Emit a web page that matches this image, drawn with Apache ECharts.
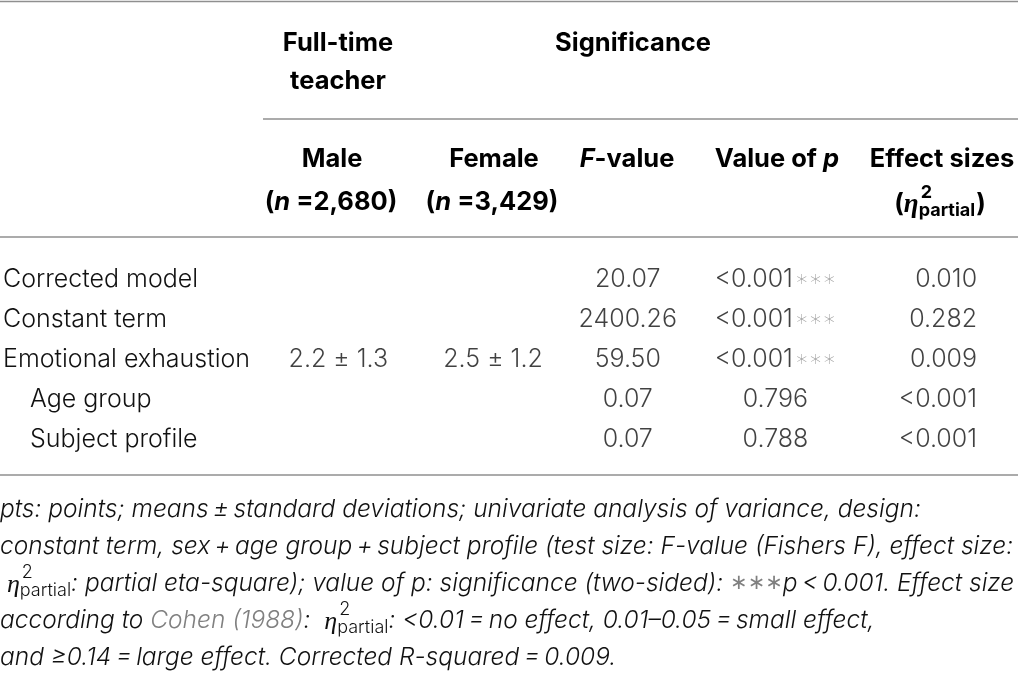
<!DOCTYPE html>
<html lang="en">
<head>
    <meta charset="UTF-8">
    <title>Univariate analysis of variance</title>
    <style>
        html, body {margin: 0; padding: 0; background: #fff;}
        #main {width: 1018px; height: 676px;}
    </style>
    <script type="text/javascript" src="https://cdn.jsdelivr.net/npm/echarts@6/dist/echarts.min.js"></script>
</head>
<body>
    <div id="main"></div>
    <script>
        // table data
        var rowLabels = ['Corrected model', 'Constant term', 'Emotional exhaustion', 'Age group', 'Subject profile'];
        var rowIndent = [0, 0, 0, 1, 1];
        var maleValues = ['', '', '2.2 \u00b1 1.3', '', ''];
        var femaleValues = ['', '', '2.5 \u00b1 1.2', '', ''];
        var fValues = [20.07, 2400.26, 59.50, 0.07, 0.07];
        var pValues = ['<0.001', '<0.001', '<0.001', '0.796', '0.788'];
        var pStars = ['***', '***', '***', '', ''];
        var effectValues = ['0.010', '0.282', '0.009', '<0.001', '<0.001'];

        var SANS = 'Inter';
        var BODY = {fontFamily: SANS, fontWeight: 300, fontSize: 25, fill: '#111'};
        var HEAD = {fontFamily: SANS, fontWeight: 'bold', fontSize: 25.5, fill: '#000'};
        var NOTE = {fontFamily: SANS, fontWeight: 300, fontStyle: 'italic', fontSize: 24.5, fill: '#111'};
        var GREY = '#808080';
        var STAR = '\u2217\u2217\u2217';

        var ctx = document.createElement('canvas').getContext('2d');
        function measure(t, st) {
            ctx.font = (st.fontStyle || 'normal') + ' ' + (st.fontWeight || 'normal') + ' ' + st.fontSize + 'px ' + st.fontFamily;
            return ctx.measureText(t).width;
        }
        function txt(x, y, t, st, align) {
            return {
                type: 'text', x: x, y: y, silent: true,
                style: {
                    text: t, fontFamily: st.fontFamily, fontWeight: st.fontWeight, fontStyle: st.fontStyle || 'normal',
                    fontSize: st.fontSize, fill: st.fill, rich: st.rich,
                    align: align || 'left', textAlign: align || 'left',
                    verticalAlign: 'middle', textVerticalAlign: 'middle'
                }
            };
        }
        // lay pieces side by side; a piece may stack a superscript over a subscript
        function run(x0, y, segs, base, center) {
            var els = [], x = 0;
            segs.forEach(function (s) {
                if (s.stack) {
                    var w = 0;
                    s.stack.forEach(function (p) {
                        var st = Object.assign({}, base, p.style);
                        els.push(txt(x + (p.dx || 0), y + p.dy, p.t, st));
                        w = Math.max(w, measure(p.t, st) + (p.dx || 0));
                    });
                    x += w;
                } else {
                    var st = Object.assign({}, base, s.style);
                    els.push(txt(x + (s.dx || 0), y + (s.dy || 0), s.t, st));
                    x += measure(s.t, st) + (s.dx || 0);
                }
            });
            var shift = center ? x0 - x / 2 : x0;
            els.forEach(function (e) { e.x += shift; });
            return els;
        }
        function eta(bold) {
            var etaStyle = {fontFamily: 'Liberation Serif', fontStyle: 'italic', fontWeight: bold ? 'bold' : 'normal', fontSize: bold ? 27 : 26};
            var up = {fontStyle: 'normal', fontSize: 18};
            return [
                {t: '\u03b7', style: etaStyle, dy: 1},
                {stack: [
                    {t: '2', style: up, dy: -11, dx: 2},
                    {t: 'partial', style: up, dy: 7, dx: 0}
                ]}
            ];
        }

        // layout
        var colX = {male: 337, female: 492, f: 627, p: 775, eff: 977};
        var bodyTop = 259, rowH = 40;
        var noteY = [510, 547, 584, 621, 658];

        var graphics = [];
        function rule(x1, x2, y) {
            graphics.push({type: 'line', silent: true, shape: {x1: x1, y1: y, x2: x2, y2: y},
                style: {stroke: '#8f8f8f', lineWidth: 1.6}});
        }
        rule(0, 1018, 1.5);
        rule(263, 1018, 119);
        rule(0, 1018, 237);
        rule(0, 1018, 475);

        var headRich = {i: {fontStyle: 'italic', fontWeight: 'bold', fontFamily: SANS, fontSize: 25.5, fill: '#000'}};
        var H = Object.assign({}, HEAD, {rich: headRich});
        graphics.push(txt(338, 43, 'Full-time', HEAD, 'center'));
        graphics.push(txt(338, 81, 'teacher', HEAD, 'center'));
        graphics.push(txt(633, 43, 'Significance', HEAD, 'center'));
        graphics.push(txt(332, 159, 'Male', HEAD, 'center'));
        graphics.push(txt(331, 202, '({i|n} =2,680)', H, 'center'));
        graphics.push(txt(494, 159, 'Female', HEAD, 'center'));
        graphics.push(txt(492, 202, '({i|n} =3,429)', H, 'center'));
        graphics.push(txt(627, 159, '{i|F}-value', H, 'center'));
        graphics.push(txt(777, 159, 'Value of {i|p}', H, 'center'));
        graphics.push(txt(942, 159, 'Effect sizes', HEAD, 'center'));
        graphics = graphics.concat(run(940, 204, [{t: '('}].concat(eta(true), [{t: ')', dx: 1}]), HEAD, true));

        // footnote
        var starNote = {fill: GREY, fontFamily: 'DejaVu Sans', fontStyle: 'normal', fontSize: 21, fontWeight: 'normal'};
        var noteLines = [
            [{t: 'pts: points; means\u2009\u00b1\u2009standard deviations; univariate analysis of variance, design:'}],
            [{t: 'constant term, sex\u2009+\u2009age group\u2009+\u2009subject profile (test size: F-value (Fishers F), effect size:'}],
            [{t: ' '}].concat(eta(false), [{t: ': partial eta-square); value of p: significance (two-sided): '},
                {t: STAR, style: starNote, dy: 0}, {t: 'p\u2009<\u20090.001. Effect size'}]),
            [{t: 'according to '}, {t: 'Cohen (1988)', style: {fill: GREY}}, {t: ':  '}].concat(eta(false),
                [{t: ': <0.01\u2009=\u2009no effect, 0.01\u20130.05\u2009=\u2009small effect,'}]),
            [{t: 'and \u22650.14\u2009=\u2009large effect. Corrected R-squared\u2009=\u20090.009.'}]
        ];
        noteLines.forEach(function (segs, i) {
            graphics = graphics.concat(run(0, noteY[i], segs, NOTE, false));
        });

        var cellLabel = {
            show: true, position: 'inside', color: BODY.fill, fontFamily: SANS, fontWeight: 300, fontSize: 25,
            rich: {
                n: {color: BODY.fill, fontFamily: SANS, fontWeight: 300, fontSize: 25},
                s: {color: GREY, fontFamily: 'DejaVu Sans', fontSize: 22, padding: [3, 0, 0, 2]}
            }
        };
        function column(name, x, texts, align) {
            var data = [];
            texts.forEach(function (t, i) {
                if (t !== '') data.push({value: [x, i], label: {formatter: t}});
            });
            return {
                name: name, type: 'scatter', silent: true, symbolSize: 1,
                itemStyle: {color: 'rgba(0,0,0,0)'},
                label: Object.assign({}, cellLabel, {align: align}),
                data: data
            };
        }

        var chart = echarts.init(document.getElementById('main'), null, {renderer: 'canvas'});
        chart.setOption({
            animation: false,
            grid: {left: 0, right: 0, top: bodyTop, height: rowH * rowLabels.length},
            xAxis: {type: 'value', min: 0, max: 1018, show: false},
            yAxis: {
                type: 'category', inverse: true, data: rowLabels,
                axisLine: {show: false}, axisTick: {show: false}, splitLine: {show: false},
                axisLabel: {
                    inside: true, margin: 1, color: BODY.fill, fontFamily: SANS, fontWeight: 300, fontSize: 25,
                    formatter: function (v, i) { return rowIndent[i] ? '{ind|' + v + '}' : v; },
                    rich: {ind: {padding: [0, 0, 0, 27], color: BODY.fill, fontFamily: SANS, fontWeight: 300, fontSize: 25}}
                }
            },
            series: [
                column('Male', colX.male, maleValues, 'center'),
                column('Female', colX.female, femaleValues, 'center'),
                column('F-value', colX.f, fValues.map(function (v) { return v.toFixed(2); }), 'center'),
                column('Value of p', colX.p, pValues.map(function (v, i) {
                    return '{n|' + v + '}' + (pStars[i] ? '{s|' + STAR + '}' : '');
                }), 'center'),
                column('Effect sizes', colX.eff, effectValues, 'right')
            ],
            graphic: graphics
        });
    </script>
</body>
</html>
